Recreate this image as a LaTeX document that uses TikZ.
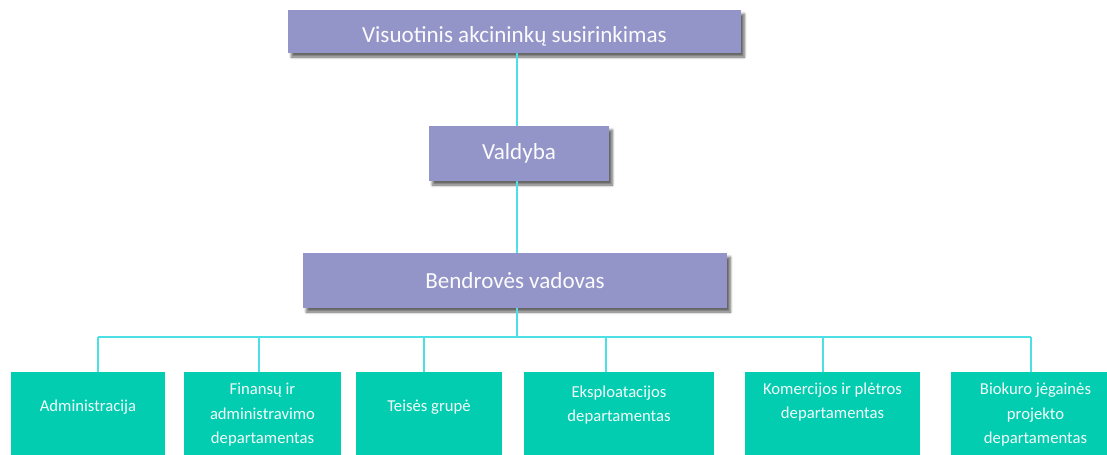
\documentclass[tikz,border=0pt]{standalone}
\usepackage{fontspec}
\setmainfont{Carlito}
\usetikzlibrary{shadows.blur}

\definecolor{boardfill}{RGB}{147,148,200}
\definecolor{deptfill}{RGB}{3,205,177}
\definecolor{linkline}{RGB}{76,224,230}

\tikzset{
  board/.style={fill=boardfill, inner sep=0pt, text=white!96!boardfill,
    font=\fontsize{17.3}{20}\selectfont,
    blur shadow={shadow xshift=2.5pt, shadow yshift=-3pt, shadow blur steps=6, shadow opacity=60}},
  dept/.style={fill=deptfill, inner sep=0pt, minimum height=77.25pt},
  deptlbl/.style={align=center, text=white!95!deptfill, inner sep=0pt,
    font=\fontsize{12.5}{18.4}\selectfont},
  link/.style={draw=linkline, line width=1.1pt}
}

\begin{document}
\begin{tikzpicture}[x=0.75pt,y=-0.75pt]
  \useasboundingbox (0,0) rectangle (1107,454);

  % Connectors
  \coordinate (bus) at (517,337);
  \coordinate (d1) at (98,337);
  \coordinate (d2) at (259,337);
  \coordinate (d3) at (424,337);
  \coordinate (d4) at (606,337);
  \coordinate (d5) at (823,337);
  \coordinate (d6) at (1031,337);

  % Top levels
  \node[board, minimum width=339.75pt, minimum height=32.25pt, text height=20pt, text depth=3.5pt] (vas) at (514.5,31.5) {Visuotinis akcininkų susirinkimas};
  \node[board, minimum width=135pt, minimum height=41.25pt] (valdyba) at (519,153.5) {Valdyba};
  \node[board, minimum width=318pt, minimum height=41.25pt] (vadovas) at (515,280.5) {Bendrovės vadovas};

  % Departments
  \node[dept, minimum width=115.5pt] (adm) at (88,423.5) {};
  \node[dept, minimum width=117.75pt] (fin) at (262.5,423.5) {};
  \node[dept, minimum width=109.5pt] (teis) at (429,423.5) {};
  \node[dept, minimum width=142.5pt] (eksp) at (619,423.5) {};
  \node[dept, minimum width=131.25pt] (kom) at (832.5,423.5) {};
  \node[dept, minimum width=126.75pt] (bio) at (1035.5,423.5) {};

  \node[deptlbl] (admtxt) at (88,407) {Administracija};
  \node[deptlbl] (fintxt) at (262.5,415) {Finansų ir\\administravimo\\departamentas};
  \node[deptlbl] (teistxt) at (429,407) {Teisės grupė};
  \node[deptlbl] (eksptxt) at (619,405) {Eksploatacijos\\departamentas};
  \node[deptlbl] (komtxt) at (832.5,402) {Komercijos ir plėtros\\departamentas};
  \node[deptlbl] (biotxt) at (1035.5,415) {Biokuro jėgainės\\projekto\\departamentas};

  \draw[link] (vas.south -| bus) -- (valdyba.north -| bus);
  \draw[link] (valdyba.south -| bus) -- (vadovas.north -| bus);
  \draw[link] (vadovas.south -| bus) -- (bus);
  \draw[link] (d1) -- (d6);
  \draw[link] (d1) -- (d1 |- adm.north);
  \draw[link] (d2) -- (d2 |- fin.north);
  \draw[link] (d3) -- (d3 |- teis.north);
  \draw[link] (d4) -- (d4 |- eksp.north);
  \draw[link] (d5) -- (d5 |- kom.north);
  \draw[link] (d6) -- (d6 |- bio.north);

\end{tikzpicture}
\end{document}
